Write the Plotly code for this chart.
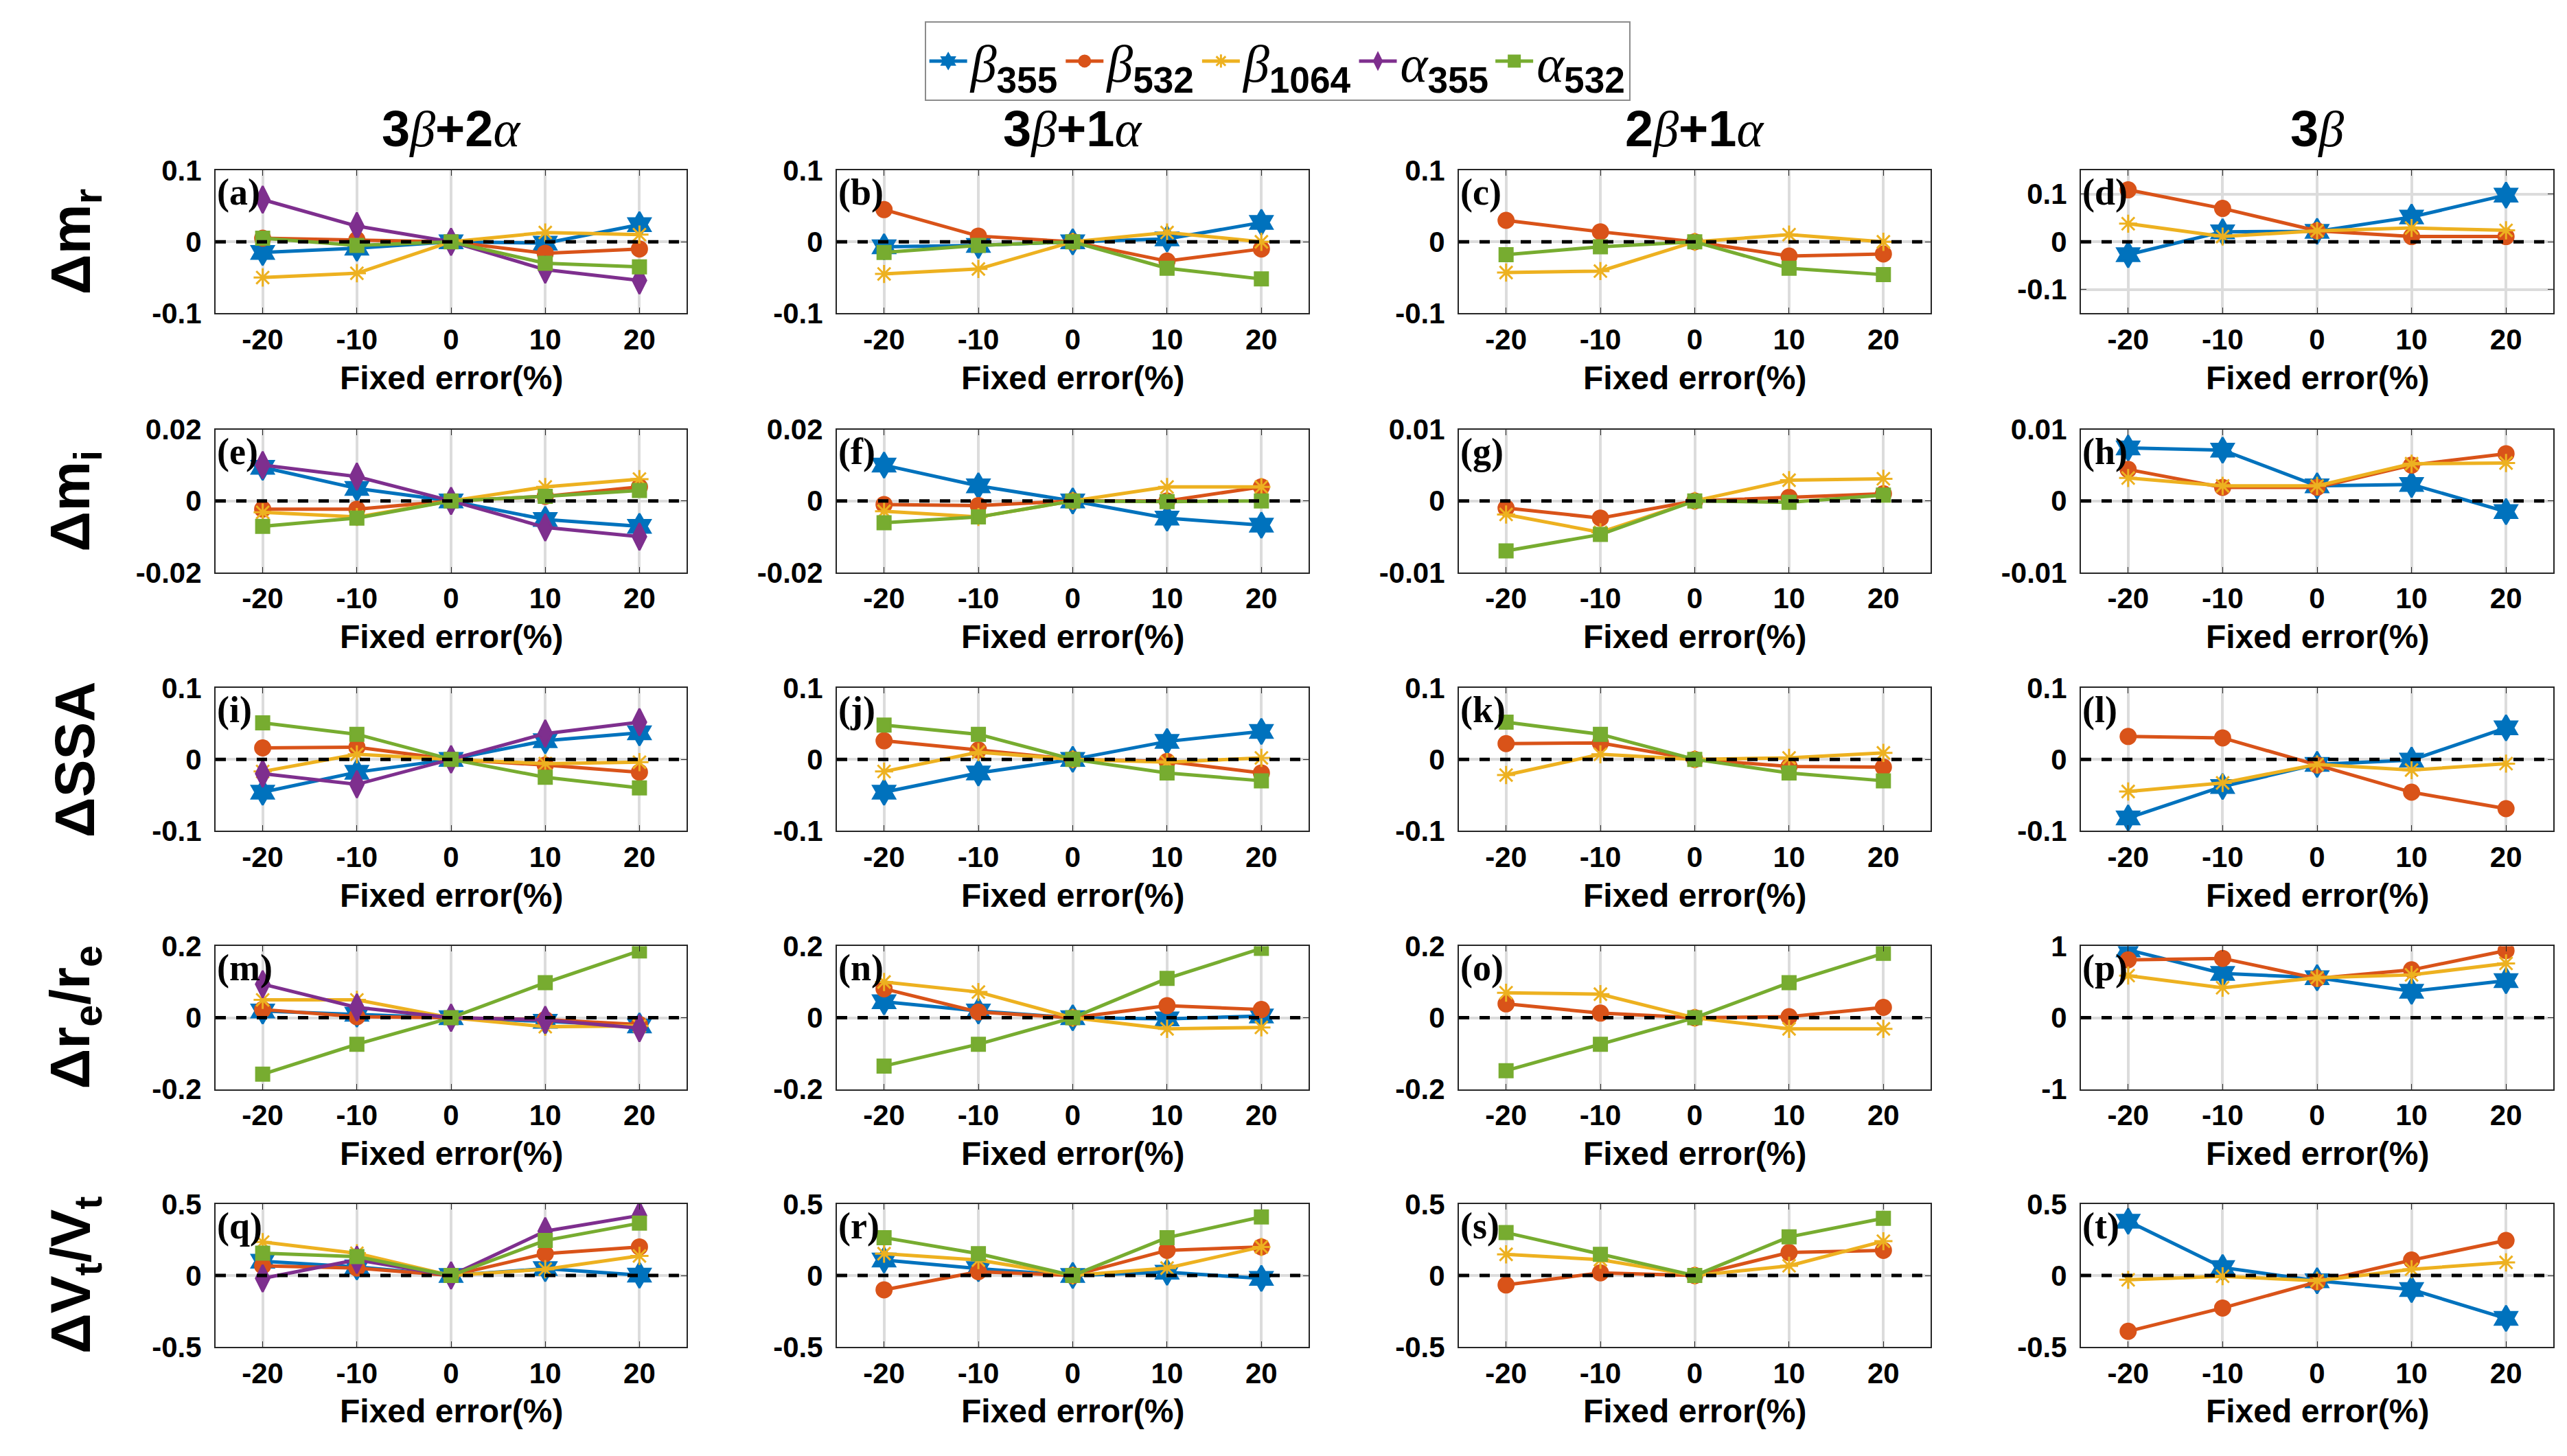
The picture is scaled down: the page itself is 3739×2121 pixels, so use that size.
import plotly.graph_objects as go

# fixed error applied to one input (%)
fixed_error = [-20, -10, 0, 10, 20]
x_ticktext = ["-20", "-10", "0", "10", "20"]

# ---- delta m_r ----
mr_a = {"b355": [-0.015, -0.009, 0, -0.002, 0.024], "b532": [0.005, 0.003, 0, -0.016, -0.010],
        "b1064": [-0.050, -0.044, 0, 0.013, 0.010], "a355": [0.059, 0.022, 0, -0.039, -0.054],
        "a532": [0.005, -0.005, 0, -0.030, -0.035]}
mr_b = {"b355": [-0.007, -0.005, 0, 0.004, 0.027], "b532": [0.045, 0.008, 0, -0.027, -0.010],
        "b1064": [-0.045, -0.038, 0, 0.013, 0.000], "a532": [-0.015, -0.005, 0, -0.037, -0.052]}
mr_c = {"b532": [0.030, 0.014, 0, -0.020, -0.017], "b1064": [-0.043, -0.041, 0, 0.010, 0.000],
        "a532": [-0.018, -0.007, 0, -0.037, -0.046]}
mr_d = {"b355": [-0.027, 0.021, 0.022, 0.052, 0.098], "b532": [0.109, 0.070, 0.023, 0.011, 0.011],
        "b1064": [0.038, 0.011, 0.023, 0.029, 0.024]}

# ---- delta m_i ----
mi_e = {"b355": [0.0094, 0.0035, 0, -0.0052, -0.0071], "b532": [-0.0023, -0.0023, 0, 0.0013, 0.0039],
        "b1064": [-0.0032, -0.0045, 0, 0.0039, 0.0061], "a355": [0.0100, 0.0068, 0, -0.0074, -0.0100],
        "a532": [-0.0071, -0.0048, 0, 0.0013, 0.0029]}
mi_f = {"b355": [0.0100, 0.0042, 0, -0.0048, -0.0068], "b532": [-0.0010, -0.0013, 0, 0.0000, 0.0039],
        "b1064": [-0.0029, -0.0045, 0, 0.0039, 0.0039], "a532": [-0.0061, -0.0045, 0, -0.0002, 0.0000]}
mi_g = {"b532": [-0.0010, -0.0024, 0, 0.0005, 0.0010], "b1064": [-0.0019, -0.0044, 0, 0.0029, 0.0031],
        "a532": [-0.0070, -0.0047, 0, -0.0002, 0.0008]}
mi_h = {"b355": [0.0074, 0.0071, 0.0021, 0.0023, -0.0015], "b532": [0.0044, 0.0019, 0.0019, 0.0050, 0.0066],
        "b1064": [0.0032, 0.0021, 0.0021, 0.0052, 0.0053]}

# ---- delta SSA ----
ssa_i = {"b355": [-0.046, -0.018, 0, 0.026, 0.037], "b532": [0.016, 0.017, 0, -0.008, -0.018],
         "b1064": [-0.017, 0.007, 0, -0.006, -0.004], "a355": [-0.020, -0.035, 0, 0.036, 0.052],
         "a532": [0.051, 0.035, 0, -0.025, -0.040]}
ssa_j = {"b355": [-0.046, -0.019, 0, 0.025, 0.039], "b532": [0.026, 0.013, 0, -0.003, -0.019],
         "b1064": [-0.017, 0.010, 0, -0.004, 0.002], "a532": [0.048, 0.035, 0, -0.019, -0.030]}
ssa_k = {"b532": [0.022, 0.023, 0, -0.010, -0.011], "b1064": [-0.022, 0.007, 0, 0.002, 0.009],
         "a532": [0.052, 0.035, 0, -0.019, -0.030]}
ssa_l = {"b355": [-0.082, -0.038, -0.007, -0.001, 0.044], "b532": [0.032, 0.030, -0.008, -0.046, -0.069],
         "b1064": [-0.045, -0.033, -0.007, -0.015, -0.006]}

# ---- delta r_e / r_e ----
re_m = {"b355": [0.019, 0.010, 0, -0.010, -0.023], "b532": [0.023, 0.003, 0, -0.005, -0.019],
        "b1064": [0.050, 0.050, 0, -0.025, -0.023], "a355": [0.094, 0.029, 0, -0.006, -0.029],
        "a532": [-0.158, -0.074, 0, 0.098, 0.187]}
re_n = {"b355": [0.045, 0.019, 0, -0.003, 0.005], "b532": [0.081, 0.016, 0, 0.034, 0.023],
        "b1064": [0.100, 0.072, 0, -0.031, -0.027], "a532": [-0.135, -0.074, 0, 0.110, 0.194]}
re_o = {"b532": [0.039, 0.013, 0, 0.003, 0.029], "b1064": [0.070, 0.066, 0, -0.031, -0.031],
        "a532": [-0.148, -0.074, 0, 0.098, 0.180]}
re_p = {"b355": [0.95, 0.62, 0.56, 0.37, 0.52], "b532": [0.81, 0.83, 0.55, 0.67, 0.94],
        "b1064": [0.59, 0.42, 0.56, 0.60, 0.76]}

# ---- delta V_t / V_t ----
vt_q = {"b355": [0.100, 0.060, 0, 0.048, 0.003], "b532": [0.068, 0.052, 0, 0.153, 0.200],
        "b1064": [0.234, 0.156, 0, 0.044, 0.137], "a355": [-0.020, 0.110, 0, 0.310, 0.420],
        "a532": [0.156, 0.132, 0, 0.245, 0.366]}
vt_r = {"b355": [0.108, 0.048, 0, 0.023, -0.020], "b532": [-0.100, 0.027, 0, 0.176, 0.200],
        "b1064": [0.153, 0.108, 0, 0.052, 0.200], "a532": [0.265, 0.153, 0, 0.265, 0.410]}
vt_s = {"b532": [-0.066, 0.019, 0, 0.161, 0.176], "b1064": [0.148, 0.111, 0, 0.068, 0.240],
        "a532": [0.300, 0.148, 0, 0.270, 0.400]}
vt_t = {"b355": [0.380, 0.056, -0.037, -0.098, -0.300], "b532": [-0.390, -0.227, -0.045, 0.108, 0.245],
        "b1064": [-0.030, -0.005, -0.037, 0.044, 0.092]}

col_titles = ["3|β|+2|α", "3|β|+1|α", "2|β|+1|α", "3|β"]
row_titles = ["Δm<sub>r</sub>", "Δm<sub>i</sub>", "ΔSSA", "Δr<sub>e</sub>/r<sub>e</sub>", "ΔV<sub>t</sub>/V<sub>t</sub>"]
panel_letters = list("abcdefghijklmnopqrst")
panel_data = [mr_a, mr_b, mr_c, mr_d, mi_e, mi_f, mi_g, mi_h, ssa_i, ssa_j, ssa_k, ssa_l,
              re_m, re_n, re_o, re_p, vt_q, vt_r, vt_s, vt_t]
panel_ylim = [0.1, 0.1, 0.1, 0.15, 0.02, 0.02, 0.01, 0.01, 0.1, 0.1, 0.1, 0.1,
              0.2, 0.2, 0.2, 1.0, 0.5, 0.5, 0.5, 0.5]
panel_ytick = [0.1, 0.1, 0.1, 0.1, 0.02, 0.02, 0.01, 0.01, 0.1, 0.1, 0.1, 0.1,
               0.2, 0.2, 0.2, 1, 0.5, 0.5, 0.5, 0.5]

SERIF = "Liberation Serif"
SANS = "Liberation Sans"


def greek(ch):
    return '<span style="font-family:%s"><i>%s</i></span>' % (SERIF, ch)


series = {
    "b355": dict(name=greek("β") + "<sub><b>355</b></sub>", color="#0072BD", symbol="hexagram", size=28),
    "b532": dict(name=greek("β") + "<sub><b>532</b></sub>", color="#D95319", symbol="circle", size=22),
    "b1064": dict(name=greek("β") + "<sub><b>1064</b></sub>", color="#EDB120", symbol="asterisk-open", size=22),
    "a355": dict(name=greek("α") + "<sub><b>355</b></sub>", color="#7E2F8E", symbol="diamond-tall", size=28),
    "a532": dict(name=greek("α") + "<sub><b>532</b></sub>", color="#77AC30", symbol="square", size=19),
}

W, H = 3739, 2121
col_px = [(306, 992), (1211, 1898), (2117, 2804), (3023, 3711)]
row_px = [(222, 435), (608, 821), (993, 1206), (1378, 1591), (1762, 1975)]

fig = go.Figure()
layout = dict(width=W, height=H, margin=dict(l=0, r=0, t=0, b=0),
              paper_bgcolor="white", plot_bgcolor="white",
              font=dict(family=SANS, color="black"))
annotations = []
shapes = []

for k, data in enumerate(panel_data):
    r, c = divmod(k, 4)
    n = k + 1
    sfx = "" if n == 1 else str(n)
    x0, x1 = col_px[c]
    y0, y1 = row_px[r]
    lim = panel_ylim[k]
    tk = panel_ytick[k]
    yvals = [-tk, 0, tk]
    ytext = [("%g" % v) for v in yvals]

    layout["xaxis" + sfx] = dict(
        domain=[x0 / W, x1 / W], anchor="y" + sfx, range=[-25, 25],
        tickvals=fixed_error, ticktext=x_ticktext, ticks="inside", ticklen=8,
        tickcolor="#262626", showline=True, mirror="allticks", linecolor="#262626", linewidth=2,
        showgrid=True, gridcolor="#dcdcdc", gridwidth=4, zeroline=False,
        tickfont=dict(size=42, family=SANS, weight="bold"), ticklabelstandoff=0)
    layout["yaxis" + sfx] = dict(
        domain=[1 - y1 / H, 1 - y0 / H], anchor="x" + sfx, range=[-lim, lim],
        tickvals=yvals, ticktext=ytext, ticks="inside", ticklen=8,
        tickcolor="#262626", showline=True, mirror="allticks", linecolor="#262626", linewidth=2,
        showgrid=True, gridcolor="#dcdcdc", gridwidth=4, zeroline=False,
        tickfont=dict(size=42, family=SANS, weight="bold"), ticklabelstandoff=10)

    for key in ["b355", "b532", "b1064", "a355", "a532"]:
        if key not in data:
            continue
        st = series[key]
        fig.add_trace(go.Scatter(
            x=fixed_error, y=data[key], mode="lines+markers", name=st["name"],
            legendgroup=key, showlegend=(k == 0),
            line=dict(color=st["color"], width=5),
            marker=dict(symbol=st["symbol"], size=st["size"], color=st["color"],
                        line=dict(color=st["color"], width=3)),
            xaxis="x" + sfx, yaxis="y" + sfx))

    # dashed zero reference
    shapes.append(dict(type="line", xref="x%s domain" % sfx, yref="y" + sfx,
                       x0=0, x1=1, y0=0, y1=0, layer="above",
                       line=dict(color="black", width=5, dash="dash")))

    # panel letter
    annotations.append(dict(text="<b>(%s)</b>" % panel_letters[k], xref="x%s domain" % sfx,
                            yref="y%s domain" % sfx, x=0.0, y=1.0, xanchor="left", yanchor="top",
                            showarrow=False, font=dict(family=SERIF, size=54, color="black")))
    # x title
    annotations.append(dict(text="<b>Fixed error(%)</b>", xref="x%s domain" % sfx,
                            yref="y%s domain" % sfx, x=0.5, y=-0.45, xanchor="center", yanchor="middle",
                            showarrow=False, font=dict(family=SANS, size=48, color="black")))

# column titles
for c, t in enumerate(col_titles):
    parts = t.split("|")
    txt = ""
    for p in parts:
        txt += greek(p) if p in ("β", "α") else "<b>%s</b>" % p
    x0, x1 = col_px[c]
    annotations.append(dict(text=txt, xref="paper", yref="paper", x=(x0 + x1) / 2 / W,
                            y=1 - 160 / H, xanchor="center", yanchor="middle", showarrow=False,
                            font=dict(family=SANS, size=74, color="black")))

# row titles
for r, t in enumerate(row_titles):
    y0, y1 = row_px[r]
    annotations.append(dict(text="<b>%s</b>" % t, xref="paper", yref="paper", x=100 / W,
                            y=1 - (y0 + y1) / 2 / H, xanchor="center", yanchor="middle",
                            textangle=-90, showarrow=False,
                            font=dict(family=SANS, size=82, color="black")))

layout["annotations"] = annotations
layout["shapes"] = shapes
layout["showlegend"] = True
layout["legend"] = dict(orientation="h", x=0.4955, xanchor="center", y=1.0, yanchor="top",
                        bordercolor="#8c8c8c", borderwidth=2, bgcolor="white",
                        font=dict(family=SANS, size=76, color="black"),
                        itemwidth=55, tracegroupgap=0, traceorder="normal")
fig.update_layout(**layout)

fig.write_html("out.html")
